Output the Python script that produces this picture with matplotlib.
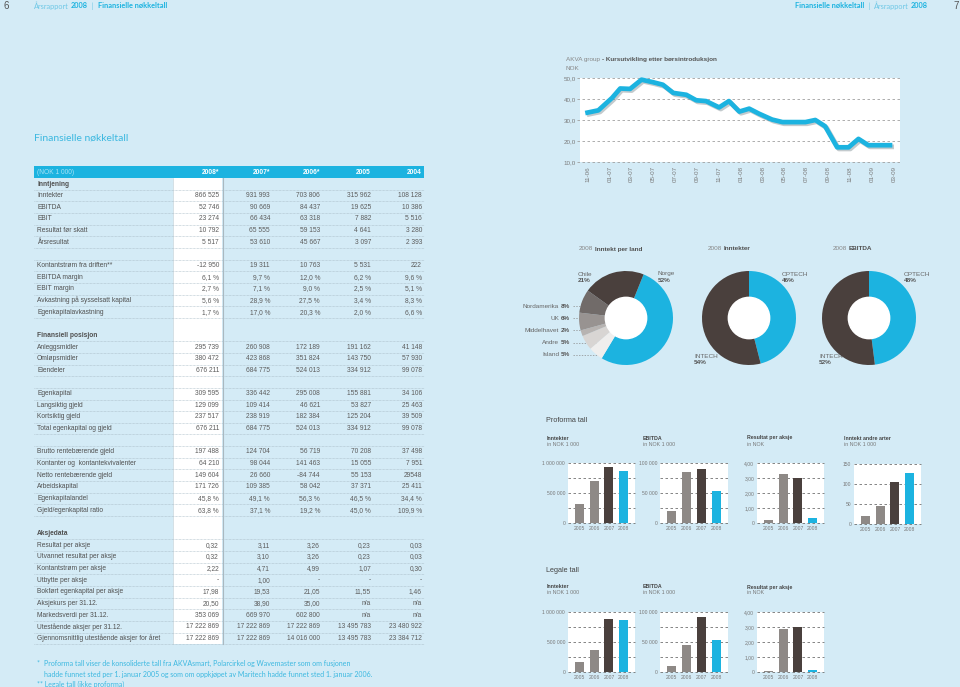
import matplotlib
matplotlib.use('Agg')
import matplotlib.pyplot as plt
import matplotlib.patheffects as pe
from matplotlib.patches import Rectangle, Circle

plt.rcParams['font.family'] = ['Liberation Sans', 'DejaVu Sans']

# ---------------- data ----------------
tbl_years = ['2008*', '2007*', '2006*', '2005', '2004']
# None = overskrift, '' = tom rad
row_labels = ['Inntjening', 'Inntekter', 'EBITDA', 'EBIT', 'Resultat før skatt', 'Årsresultat', '',
              'Kontantstrøm fra driften**', 'EBITDA margin', 'EBIT margin',
              'Avkastning på sysselsatt kapital', 'Egenkapitalavkastning', '',
              'Finansiell posisjon', 'Anleggsmidler', 'Omløpsmidler', 'Eiendeler', '',
              'Egenkapital', 'Langsiktig gjeld', 'Kortsiktig gjeld', 'Total egenkapital og gjeld', '',
              'Brutto rentebærende gjeld', 'Kontanter og  kontantekvivalenter', 'Netto rentebærende gjeld',
              'Arbeidskapital', 'Egenkapitalandel', 'Gjeld/egenkapital ratio', '',
              'Aksjedata', 'Resultat per aksje', 'Utvannet resultat per aksje', 'Kontantstrøm per aksje',
              'Utbytte per aksje', 'Bokført egenkapital per aksje', 'Aksjekurs per 31.12.',
              'Markedsverdi per 31.12.', 'Utestående aksjer per 31.12.',
              'Gjennomsnittlig utestående aksjer for året']
row_values = [
    None,
    ['866 525', '931 993', '703 806', '315 962', '108 128'],
    ['52 746', '90 669', '84 437', '19 625', '10 386'],
    ['23 274', '66 434', '63 318', '7 882', '5 516'],
    ['10 792', '65 555', '59 153', '4 641', '3 280'],
    ['5 517', '53 610', '45 667', '3 097', '2 393'],
    [],
    ['-12 950', '19 311', '10 763', '5 531', '222'],
    ['6,1 %', '9,7 %', '12,0 %', '6,2 %', '9,6 %'],
    ['2,7 %', '7,1 %', '9,0 %', '2,5 %', '5,1 %'],
    ['5,6 %', '28,9 %', '27,5 %', '3,4 %', '8,3 %'],
    ['1,7 %', '17,0 %', '20,3 %', '2,0 %', '6,6 %'],
    [],
    None,
    ['295 739', '260 908', '172 189', '191 162', '41 148'],
    ['380 472', '423 868', '351 824', '143 750', '57 930'],
    ['676 211', '684 775', '524 013', '334 912', '99 078'],
    [],
    ['309 595', '336 442', '295 008', '155 881', '34 106'],
    ['129 099', '109 414', '46 621', '53 827', '25 463'],
    ['237 517', '238 919', '182 384', '125 204', '39 509'],
    ['676 211', '684 775', '524 013', '334 912', '99 078'],
    [],
    ['197 488', '124 704', '56 719', '70 208', '37 498'],
    ['64 210', '98 044', '141 463', '15 055', '7 951'],
    ['149 604', '26 660', '-84 744', '55 153', '29548'],
    ['171 726', '109 385', '58 042', '37 371', '25 411'],
    ['45,8 %', '49,1 %', '56,3 %', '46,5 %', '34,4 %'],
    ['63,8 %', '37,1 %', '19,2 %', '45,0 %', '109,9 %'],
    [],
    None,
    ['0,32', '3,11', '3,26', '0,23', '0,03'],
    ['0,32', '3,10', '3,26', '0,23', '0,03'],
    ['2,22', '4,71', '4,99', '1,07', '0,30'],
    ['-', '1,00', '-', '-', '-'],
    ['17,98', '19,53', '21,05', '11,55', '1,46'],
    ['20,50', '38,90', '35,00', 'n/a', 'n/a'],
    ['353 069', '669 970', '602 800', 'n/a', 'n/a'],
    ['17 222 869', '17 222 869', '17 222 869', '13 495 783', '23 480 922'],
    ['17 222 869', '17 222 869', '14 016 000', '13 495 783', '23 384 712'],
]

# aksjekurs (måneder etter 11-06, NOK)
kurs_mnd = [-0.25, 0.95, 2.2, 2.95, 3.85, 4.9, 5.95, 6.85, 7.8, 9.0, 9.9, 10.8, 12.0, 12.9, 13.85,
            14.75, 15.65, 16.85, 17.8, 18.7, 19.9, 20.8, 21.7, 22.8, 23.85, 24.75, 25.65, 26.55, 27.85]
kurs = [33.3, 34.6, 40.5, 45.0, 44.8, 49.2, 48.0, 46.8, 42.9, 42.0, 39.4, 39.0, 36.0, 39.0, 34.0,
        35.4, 33.0, 30.2, 29.0, 29.0, 29.0, 30.0, 27.0, 17.0, 17.0, 21.0, 18.0, 18.0, 18.0]
kurs_ticks = ['11-06', '01-07', '03-07', '05-07', '07-07', '09-07', '11-07', '01-08', '03-08',
              '05-08', '07-08', '09-08', '11-08', '01-09', '03-09']

land_navn = ['Norge', 'Island', 'Andre', 'Middelhavet', 'UK', 'Nordamerika', 'Chile']
land_pct = [52, 5, 5, 2, 6, 8, 21]
segment = ['OPTECH', 'INTECH']
inntekter_pct = [46, 54]
ebitda_pct = [48, 52]

bar_years = ['2005', '2006', '2007', '2008']
pf_inntekter = [315962, 703806, 931993, 866525]
pf_ebitda = [19625, 84437, 90669, 52746]
pf_eps = [0.23, 3.26, 3.00, 0.32]
pf_andre = [20, 46, 104, 128]
lg_inntekter = [160000, 372000, 880000, 866525]
lg_ebitda = [10000, 44500, 91000, 52746]
lg_eps = [0.05, 2.87, 3.02, 0.16]

# ---------------- oppsett ----------------
BG = '#d4ebf6'
CYAN = '#1cb3e0'
DARK = '#4a403d'
GRAY = '#8e8986'
TXT = '#505050'
W, H = 960, 687

fig = plt.figure(figsize=(9.6, 6.87), dpi=100, facecolor=BG)
bg = fig.add_axes([0, 0, 1, 1])
bg.set_xlim(0, W)
bg.set_ylim(H, 0)
bg.axis('off')
r = fig.canvas.get_renderer()


def px_axes(x0, y0, x1, y1):
    return fig.add_axes([x0 / W, 1 - y1 / H, (x1 - x0) / W, (y1 - y0) / H])


def runs(x, y, parts, size, ha='left', family=None):
    # parts: (tekst, vekt, farge) etter hverandre, med et mellomrom mellom hver del
    gap = 0.4 * size
    ts = []
    for s, w, c in parts:
        kw = {'family': family} if family else {}
        ts.append(bg.text(x, y, s, fontsize=size, fontweight=w, color=c, va='center', ha='left', **kw))
    ws = [t.get_window_extent(r).width for t in ts]
    total = sum(ws) + gap * (len(ws) - 1)
    start = x - total if ha == 'right' else x
    for t, wd in zip(ts, ws):
        t.set_x(start)
        start += wd + gap


# topptekst
bg.text(3, 6, '6', fontsize=7, color='#555555', va='center')
bg.text(953, 6, '7', fontsize=7, color='#555555', va='center')
runs(34, 6, [('Årsrapport', 'normal', '#6fc8e6'), ('2008', 'bold', CYAN), (' | ', 'normal', '#6fc8e6'),
             ('Finansielle nøkkeltall', 'bold', CYAN)], 5.3, family='Lato')
runs(928, 6, [('Finansielle nøkkeltall', 'bold', CYAN), (' | ', 'normal', '#6fc8e6'),
              ('Årsrapport', 'normal', '#6fc8e6'), ('2008', 'bold', CYAN)], 5.3, ha='right', family='Lato')

bg.text(34, 138, 'Finansielle nøkkeltall', fontsize=7.5, color='#3cb8e0', family='Lato', va='center')

# ---------------- tabell ----------------
col_x = [219, 270, 320, 371, 422]
y0, pitch = 184, 11.65
fs = 4.8
bg.add_patch(Rectangle((34, 166), 390, 12, color=CYAN, lw=0))
bg.text(37, 172, '(NOK 1 000)', color='#a8e2f5', fontsize=fs, va='center')
for x, yr in zip(col_x, tbl_years):
    bg.text(x, 172, yr, ha='right', va='center', fontsize=fs, weight='bold', color='white')
bg.add_patch(Rectangle((173, 178), 49, 466, color='white', lw=0, zorder=0.5))
bg.plot([222.5, 222.5], [178, 644], color='#aab8c0', lw=0.8)
bg.plot([172.5, 172.5], [178, 644], color='#c4d3db', lw=0.5)

for i, (lab, vals) in enumerate(zip(row_labels, row_values)):
    y = y0 + i * pitch
    if vals is None:
        bg.text(37, y, lab, fontsize=fs, weight='bold', color=TXT, va='center')
    else:
        bg.text(37, y, lab, fontsize=fs, color=TXT, va='center')
        for x, v in zip(col_x, vals):
            bg.text(x, y, v, fontsize=fs, color='#5c5c5c', va='center', ha='right')
    nxt = row_values[i + 1] if i + 1 < len(row_values) else []
    if lab == '' and nxt is None:
        continue
    yl = y + pitch / 2
    bg.plot([34, 424], [yl, yl], color='#a9bcc7', lw=0.5, ls=(0, (1, 1)))

# fotnoter
fc = '#3cb8e0'
bg.text(37, 663, '*', fontsize=5, color=fc, family='Lato', va='center')
bg.text(44, 663, 'Proforma tall viser de konsoliderte tall fra AKVAsmart, Polarcirkel og Wavemaster som om fusjonen',
        fontsize=5, color=fc, family='Lato', va='center')
bg.text(44, 674, 'hadde funnet sted per 1. januar 2005 og som om oppkjøpet av Maritech hadde funnet sted 1. januar 2006.',
        fontsize=5, color=fc, family='Lato', va='center')
bg.text(37, 684, '** Legale tall (ikke proforma)', fontsize=5, color=fc, family='Lato', va='center')

# ---------------- kurs ----------------
runs(566, 60, [('AKVA group', 'normal', '#888888'), ('- Kursutvikling etter børsintroduksjon', 'bold', '#555555')], 4.6)
bg.text(566, 68, 'NOK', fontsize=4.6, color='#888888', va='center')
ax = px_axes(580, 78, 900, 162)
ax.set_facecolor('white')
ax.plot(kurs_mnd, kurs, color=CYAN, lw=3.4, solid_joinstyle='round', solid_capstyle='butt', clip_on=False,
        path_effects=[pe.SimpleLineShadow(offset=(1.2, -1.2), shadow_color='#7a8a90', alpha=0.45), pe.Normal()])
ax.set_xlim(-0.73, 28.55)
ax.set_ylim(10, 50)
for v in [10, 20, 30, 40, 50]:
    ax.axhline(v, xmin=-0.01, color='#a0a0a0', lw=0.6, ls=(0, (3, 3)), clip_on=False, zorder=0)
ax.set_yticks([10, 20, 30, 40, 50])
ax.set_yticklabels(['10,0', '20,0', '30,0', '40,0', '50,0'])
ax.set_xticks(range(0, 29, 2))
ax.set_xticklabels(kurs_ticks, rotation=90)
ax.tick_params(length=0, labelsize=4.5, colors='#7a7a7a', pad=3)
for s in ax.spines.values():
    s.set_visible(False)

# ---------------- kakediagram ----------------
land_col = [CYAN, '#efeeed', '#d8d5d3', '#b7b3b1', '#989391', '#716b69', DARK]


def donut(cx, cy, vals, colors, start):
    a = px_axes(cx - 47, cy - 47, cx + 47, cy + 47)
    a.pie(vals, colors=colors, startangle=start, counterclock=False,
          wedgeprops=dict(width=0.57, linewidth=0))
    a.add_patch(Circle((0, 0), 0.44, color='white'))
    a.set_aspect('equal')
    a.set_xlim(-1, 1)
    a.set_ylim(-1, 1)
    a.axis('off')


donut(626, 318, land_pct, land_col, 68)
donut(749, 318, inntekter_pct, [CYAN, DARK], 90)
donut(869, 318, ebitda_pct, [CYAN, DARK], 90)

pfs = 4.6
for x, t in [(579, 'Inntekt per land'), (708, 'Inntekter'), (833, 'EBITDA')]:
    runs(x, 249, [('2008', 'normal', '#888888'), (t, 'bold', '#505050')], pfs)


def pielabel(x, y, name, pct):
    bg.text(x, y, name, fontsize=pfs, color='#666666', va='center')
    bg.text(x, y + 6, pct, fontsize=pfs, color='#555555', weight='bold', va='center')


pielabel(578, 274, 'Chile', '21%')
pielabel(658, 274, 'Norge', '52%')
pielabel(782, 274, 'OPTECH', '46%')
pielabel(694, 357, 'INTECH', '54%')
pielabel(904, 274, 'OPTECH', '48%')
pielabel(819, 357, 'INTECH', '52%')

for name, pct, y, xe in [('Nordamerika', '8%', 306, 600), ('UK', '6%', 318, 603), ('Middelhavet', '2%', 330, 592),
                         ('Andre', '5%', 343, 596), ('Island', '5%', 355, 603)]:
    runs(570, y, [(name, 'normal', '#666666'), (pct, 'bold', '#555555')], pfs, ha='right')
    bg.plot([573, xe], [y, y], color='#8a8a8a', lw=0.5, ls=(0, (2, 2)))

# ---------------- stolpediagram ----------------
bar_col = [GRAY, GRAY, DARK, CYAN]


def barchart(tx, x0, x1, ytop, ybot, title, sub, vals, ymax, grid, ticks, labels):
    bg.text(tx, ytop - 25, title, fontsize=3.8, weight='bold', color='#444444', va='center')
    bg.text(tx, ytop - 19, sub, fontsize=3.8, color='#777777', va='center')
    a = px_axes(x0, ytop, x1, ybot)
    a.set_facecolor('white')
    a.bar(range(4), vals, width=0.61, color=bar_col, zorder=3)
    for g in grid:
        a.axhline(g, color='#707070', lw=0.6, ls=(0, (3, 3)), zorder=1, clip_on=False)
    a.set_xlim(-0.77, 3.77)
    a.set_ylim(0, ymax)
    a.set_yticks(ticks)
    a.set_yticklabels(labels)
    a.set_xticks(range(4))
    a.set_xticklabels(bar_years)
    a.tick_params(length=0, labelsize=3.6, colors='#777777', pad=2)
    for s in a.spines.values():
        s.set_visible(False)


bg.text(546, 420, 'Proforma tall', fontsize=5.2, color='#444444', va='center')
bg.text(546, 570, 'Legale tall', fontsize=5.2, color='#444444', va='center')

g_mill = [0, 250000, 500000, 750000, 1000000]
g_100k = [0, 25000, 50000, 75000, 100000]
g_eps = [0, 1, 2, 3, 4]
l_mill = ['0', '500 000', '1 000 000']
l_100k = ['0', '50 000', '100 000']
l_eps = ['0', '1,00', '2,00', '3,00', '4,00']

barchart(547, 568, 635, 463, 523, 'Inntekter', 'in NOK 1 000', pf_inntekter, 1000000, g_mill,
         [0, 500000, 1000000], l_mill)
barchart(643, 660, 728, 463, 523, 'EBITDA', 'in NOK 1 000', pf_ebitda, 100000, g_100k, [0, 50000, 100000], l_100k)
barchart(747, 757, 824, 463, 523, 'Resultat per aksje', 'in NOK', pf_eps, 4, g_eps, g_eps, l_eps)
barchart(844, 854, 921, 464, 524, 'Inntekt andre arter', 'in NOK 1 000', pf_andre, 150, [0, 50, 100, 150],
         [0, 50, 100, 150], ['0', '50', '100', '150'])

barchart(547, 568, 635, 612, 672, 'Inntekter', 'in NOK 1 000', lg_inntekter, 1000000, g_mill,
         [0, 500000, 1000000], l_mill)
barchart(643, 660, 728, 612, 672, 'EBITDA', 'in NOK 1 000', lg_ebitda, 100000, g_100k, [0, 50000, 100000], l_100k)
barchart(747, 757, 824, 612, 672, 'Resultat per aksje', 'in NOK', lg_eps, 4, g_eps, g_eps, l_eps)

fig.savefig('out.png', dpi=100, facecolor=BG)
